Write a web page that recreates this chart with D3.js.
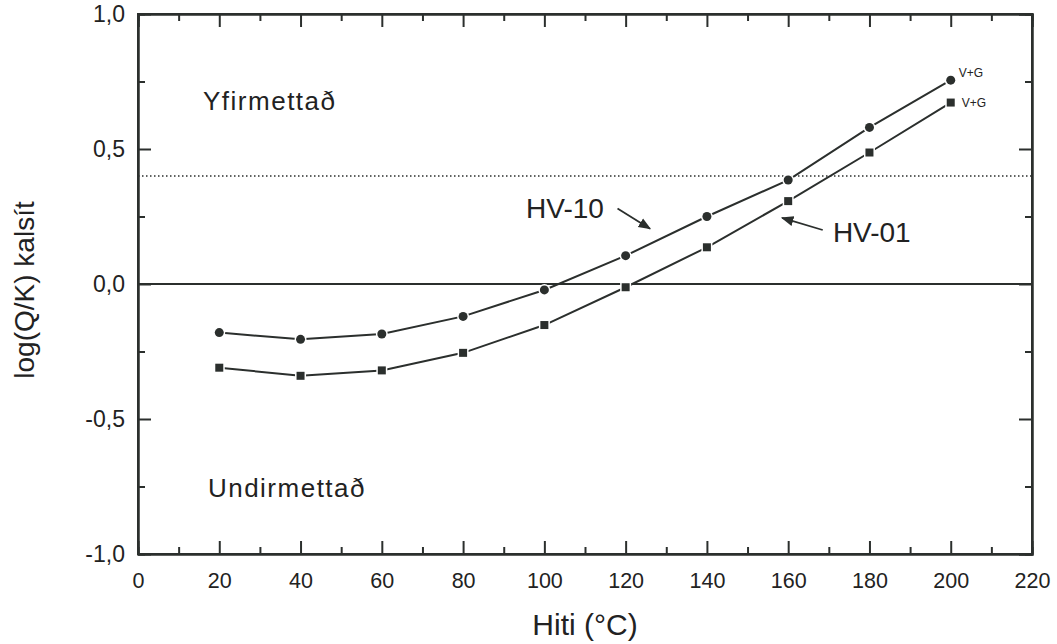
<!DOCTYPE html>
<html>
<head>
<meta charset="utf-8">
<script src="https://cdn.jsdelivr.net/npm/d3@7"></script>
<style>
body { margin: 0; background: #fff; }
text { font-family: Arial, "Liberation Sans", sans-serif; fill: #222; }
</style>
</head>
<body>
<div id="chart"></div>
<script>
var hiti = [20, 40, 60, 80, 100, 120, 140, 160, 180, 200];
var hv10 = [-0.18, -0.205, -0.185, -0.12, -0.022, 0.105, 0.25, 0.385, 0.58, 0.755];
var hv01 = [-0.31, -0.34, -0.32, -0.255, -0.152, -0.012, 0.136, 0.307, 0.487, 0.672];
var xTicks = [0, 20, 40, 60, 80, 100, 120, 140, 160, 180, 200, 220];
var yTicks = [-1.0, -0.5, 0.0, 0.5, 1.0];
var dottedLevel = 0.4;

function init(){
    var margin = {top: 14, right: 25, bottom: 90, left: 138};
    var W = 1057, H = 644;
    var w = W - margin.left - margin.right;
    var h = H - margin.top - margin.bottom;
    var ink = "#2b2f2d";

    var xScale = d3.scaleLinear().domain([0, 220]).range([0, w]);
    var yScale = d3.scaleLinear().domain([-1, 1]).range([h, 0]);

    var svg = d3.select("#chart").append("svg")
        .attr("width", W).attr("height", H)
        .append("g")
        .attr("transform", "translate(" + margin.left + "," + margin.top + ")");

    // reference lines
    svg.append("line")
        .attr("x1", 0).attr("x2", w)
        .attr("y1", yScale(0)).attr("y2", yScale(0))
        .attr("stroke", ink).attr("stroke-width", 2);
    svg.append("line")
        .attr("x1", 0).attr("x2", w)
        .attr("y1", yScale(dottedLevel)).attr("y2", yScale(dottedLevel))
        .attr("stroke", ink).attr("stroke-width", 1.4)
        .attr("stroke-dasharray", "1.5,2.5");

    // axes, ticks pointing inward
    var minorX = d3.range(10, 220, 20);
    var minorY = [-0.75, -0.25, 0.25, 0.75];
    function fmt(d){ return d3.format(".1f")(d).replace(".", ",").replace("−", "-"); }

    var xAxis = d3.axisBottom(xScale).tickValues(xTicks).tickSize(-13).tickPadding(19).tickSizeOuter(0);
    var gx = svg.append("g").attr("transform", "translate(0," + h + ")").call(xAxis);
    gx.selectAll("text").style("font-size", "21.5px");
    var yAxis = d3.axisLeft(yScale).tickValues(yTicks).tickSize(-13).tickPadding(13).tickSizeOuter(0)
        .tickFormat(fmt);
    var gy = svg.append("g").call(yAxis);
    gy.selectAll("text").style("font-size", "23px");

    svg.append("g").attr("transform", "translate(0," + h + ")")
        .call(d3.axisBottom(xScale).tickValues(minorX).tickSize(-7).tickFormat(""));
    svg.append("g").call(d3.axisLeft(yScale).tickValues(minorY).tickSize(-7).tickFormat(""));
    svg.append("g").call(d3.axisTop(xScale).tickValues(xTicks).tickSize(-13).tickFormat(""));
    svg.append("g").call(d3.axisTop(xScale).tickValues(minorX).tickSize(-7).tickFormat(""));
    svg.append("g").attr("transform", "translate(" + w + ",0)")
        .call(d3.axisRight(yScale).tickValues(yTicks).tickSize(-13).tickFormat(""));
    svg.append("g").attr("transform", "translate(" + w + ",0)")
        .call(d3.axisRight(yScale).tickValues(minorY).tickSize(-7).tickFormat(""));

    svg.selectAll(".domain").attr("stroke", ink).attr("stroke-width", 2);
    svg.selectAll(".tick line").attr("stroke", ink).attr("stroke-width", 2);

    // frame
    svg.append("rect").attr("width", w).attr("height", h)
        .attr("fill", "none").attr("stroke", ink).attr("stroke-width", 2);

    // series
    var line = d3.line()
        .x(function(d){ return xScale(d[0]); })
        .y(function(d){ return yScale(d[1]); });
    var s10 = hiti.map(function(t, i){ return [t, hv10[i]]; });
    var s01 = hiti.map(function(t, i){ return [t, hv01[i]]; });

    [s10, s01].forEach(function(s){
        svg.append("path").datum(s)
            .attr("d", line)
            .attr("fill", "none")
            .attr("stroke", ink)
            .attr("stroke-width", 2);
    });

    svg.selectAll(".c10").data(s10).enter().append("circle")
        .attr("cx", function(d){ return xScale(d[0]); })
        .attr("cy", function(d){ return yScale(d[1]); })
        .attr("r", 4.5)
        .attr("fill", ink).attr("stroke", "#fff").attr("stroke-width", 3)
        .attr("paint-order", "stroke");
    svg.selectAll(".s01").data(s01).enter().append("rect")
        .attr("x", function(d){ return xScale(d[0]) - 4; })
        .attr("y", function(d){ return yScale(d[1]) - 4; })
        .attr("width", 8).attr("height", 8)
        .attr("fill", ink).attr("stroke", "#fff").attr("stroke-width", 3)
        .attr("paint-order", "stroke");

    // labels
    var last = hiti.length - 1;
    svg.append("text")
        .attr("x", xScale(hiti[last]) + 8).attr("y", yScale(hv10[last]) - 3)
        .style("font-size", "12px").text("V+G");
    svg.append("text")
        .attr("x", xScale(hiti[last]) + 11).attr("y", yScale(hv01[last]) + 4)
        .style("font-size", "12px").text("V+G");

    svg.append("text").attr("x", xScale(16)).attr("y", yScale(0.644))
        .style("font-size", "26px").style("letter-spacing", "1.5px").text("Yfirmettað");
    svg.append("text").attr("x", xScale(17.2)).attr("y", yScale(-0.789))
        .style("font-size", "26px").style("letter-spacing", "1.5px").text("Undirmettað");

    svg.append("text").attr("x", xScale(95.5)).attr("y", yScale(0.244))
        .style("font-size", "28px").text("HV-10");
    svg.append("text").attr("x", xScale(171)).attr("y", yScale(0.156))
        .style("font-size", "28px").text("HV-01");

    svg.append("defs").append("marker")
        .attr("id", "arr").attr("viewBox", "0 0 10 10")
        .attr("refX", 9).attr("refY", 5)
        .attr("markerWidth", 7).attr("markerHeight", 7)
        .attr("orient", "auto")
        .append("path").attr("d", "M0,1 L10,5 L0,9 Z").attr("fill", ink);

    svg.append("line")
        .attr("x1", xScale(118)).attr("y1", yScale(0.28))
        .attr("x2", xScale(126)).attr("y2", yScale(0.205))
        .attr("stroke", ink).attr("stroke-width", 1.8).attr("marker-end", "url(#arr)");
    svg.append("line")
        .attr("x1", xScale(168.5)).attr("y1", yScale(0.2))
        .attr("x2", xScale(158.5)).attr("y2", yScale(0.245))
        .attr("stroke", ink).attr("stroke-width", 1.8).attr("marker-end", "url(#arr)");

    // axis titles
    svg.append("text")
        .attr("x", w / 2).attr("y", h + 81)
        .attr("text-anchor", "middle")
        .style("font-size", "30px").text("Hiti (°C)");
    svg.append("text")
        .attr("transform", "translate(" + (-104) + "," + (h / 2 + 6) + ") rotate(-90)")
        .attr("text-anchor", "middle")
        .style("font-size", "28px").text("log(Q/K) kalsít");
}
window.onload = init;
</script>
</body>
</html>
